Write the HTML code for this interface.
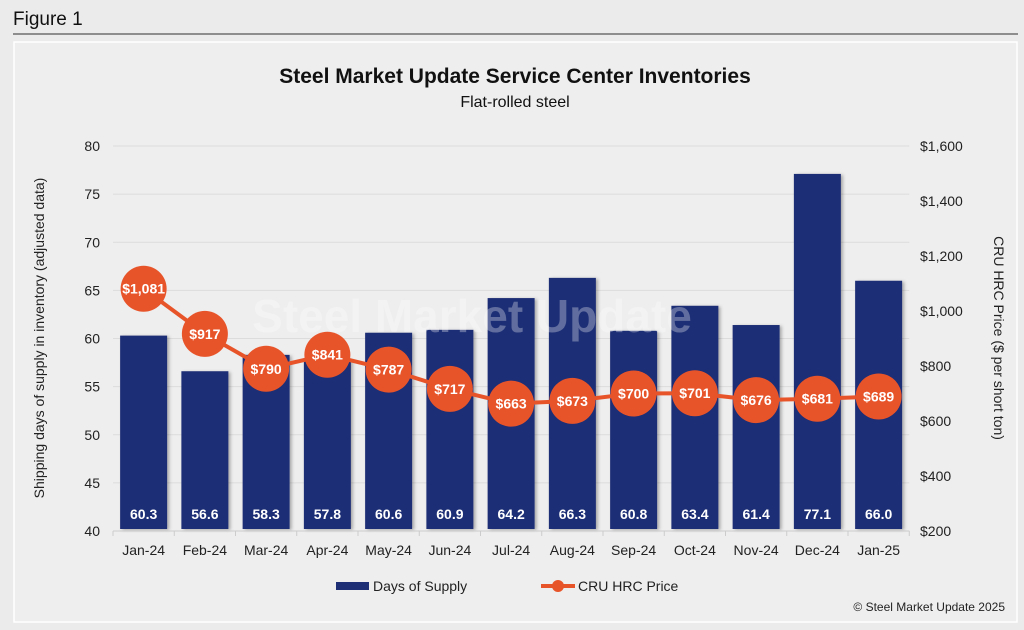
<!DOCTYPE html>
<html><head><meta charset="utf-8"><style>
body{margin:0;width:1024px;height:630px;background:#ebebeb;font-family:"Liberation Sans",Arial,sans-serif;overflow:hidden}
svg{position:absolute;left:0;top:0}
</style></head><body>
<svg width="1024" height="630">
<defs><filter id="sh" x="-20%" y="-20%" width="150%" height="150%"><feDropShadow dx="2" dy="1" stdDeviation="1.5" flood-color="#000" flood-opacity="0.3"/></filter></defs>
<text x="13" y="25" font-size="19" fill="#111">Figure 1</text>
<line x1="13" y1="34" x2="1018" y2="34" stroke="#555" stroke-width="1.2"/>
<rect x="14" y="42" width="1003" height="580" fill="#eeeeee" stroke="#fff" stroke-width="1.5"/>
<text x="515" y="83" text-anchor="middle" font-size="21" font-weight="bold" fill="#111">Steel Market Update Service Center Inventories</text>
<text x="515" y="107" text-anchor="middle" font-size="16" fill="#111">Flat-rolled steel</text>
<text transform="translate(44,338) rotate(-90)" text-anchor="middle" font-size="14" fill="#222">Shipping days of supply in inventory (adjusted data)</text>
<text transform="translate(994,338) rotate(90)" text-anchor="middle" font-size="14" fill="#222">CRU HRC Price ($ per short ton)</text>
<g id="grid"></g><g id="bars"></g><g id="line"></g><g id="axes"></g>
<text x="472" y="332" text-anchor="middle" font-size="46" font-weight="bold" fill="#ffffff" fill-opacity="0.3">Steel Market Update</text>
<g>
<rect x="336" y="582" width="33" height="8" fill="#1f2f75"/>
<text x="373" y="591" font-size="14" fill="#222">Days of Supply</text>
<line x1="541" y1="586" x2="575" y2="586" stroke="#e8542a" stroke-width="4"/>
<circle cx="558" cy="586" r="6" fill="#e8542a"/>
<text x="578" y="591" font-size="14" fill="#222">CRU HRC Price</text>
</g>
<text x="1005" y="611" text-anchor="end" font-size="12" fill="#222">© Steel Market Update 2025</text>
</svg>
<script>
const categories=["Jan-24","Feb-24","Mar-24","Apr-24","May-24","Jun-24","Jul-24","Aug-24","Sep-24","Oct-24","Nov-24","Dec-24","Jan-25"];
const daysOfSupply=[60.3,56.6,58.3,57.8,60.6,60.9,64.2,66.3,60.8,63.4,61.4,77.1,66.0];
const hrcPrice=[1081,917,790,841,787,717,663,673,700,701,676,681,689];
const leftTicks=[40,45,50,55,60,65,70,75,80];
const rightTicks=[200,400,600,800,1000,1200,1400,1600];
const NS="http://www.w3.org/2000/svg";
const X0=113,STEP=61.25,Y0=531;
const xc=i=>X0+STEP*(i+0.5);
const yL=v=>Y0-(v-40)*9.625;
const yR=p=>Y0-(p-200)*0.275;
function mk(t,a,p){const e=document.createElementNS(NS,t);for(const k in a)e.setAttribute(k,a[k]);p.appendChild(e);return e;}
const grid=document.getElementById('grid'),bars=document.getElementById('bars'),line=document.getElementById('line'),axes=document.getElementById('axes');
leftTicks.forEach(v=>{
 mk('line',{x1:X0,x2:X0+STEP*13,y1:yL(v),y2:yL(v),stroke:'#dcdcdc','stroke-width':1},grid);
 const t=mk('text',{x:100,y:yL(v)+5,'text-anchor':'end','font-size':14,fill:'#222'},axes);t.textContent=v;
 
 
});
rightTicks.forEach(p=>{
 const t=mk('text',{x:920,y:yR(p)+5,'font-size':14,fill:'#222'},axes);t.textContent='$'+p.toLocaleString('en-US');
 
 
});
mk('line',{x1:X0,x2:X0+STEP*13,y1:Y0,y2:Y0,stroke:'#ccc'},axes);
for(let i=0;i<=13;i++)mk('line',{x1:X0+STEP*i,x2:X0+STEP*i,y1:Y0,y2:Y0+5,stroke:'#ccc'},axes);
categories.forEach((c,i)=>{
 const t=mk('text',{x:xc(i),y:555,'text-anchor':'middle','font-size':14,fill:'#222'},axes);t.textContent=c;
 
 
});
daysOfSupply.forEach((v,i)=>{
 const r=mk('rect',{x:xc(i)-23.5,y:yL(v),width:47,height:Y0-2-yL(v),fill:'#1f2f75',filter:'url(#sh)'},bars);
 
 
 const t=mk('text',{x:xc(i),y:519,'text-anchor':'middle','font-size':14,'font-weight':'bold',fill:'#fff'},bars);t.textContent=v.toFixed(1);
 
 
});
mk('polyline',{points:hrcPrice.map((p,i)=>xc(i)+','+yR(p)).join(' '),fill:'none',stroke:'#e8542a','stroke-width':4},line);
hrcPrice.forEach((p,i)=>{
 const c=mk('circle',{cx:xc(i),cy:yR(p),r:23,fill:'#e8542a'},line);
 
 
 const t=mk('text',{x:xc(i),y:yR(p)+5,'text-anchor':'middle','font-size':14,'font-weight':'bold',fill:'#fff'},line);t.textContent='$'+p.toLocaleString('en-US');
 
 
});
</script>
</body></html>
